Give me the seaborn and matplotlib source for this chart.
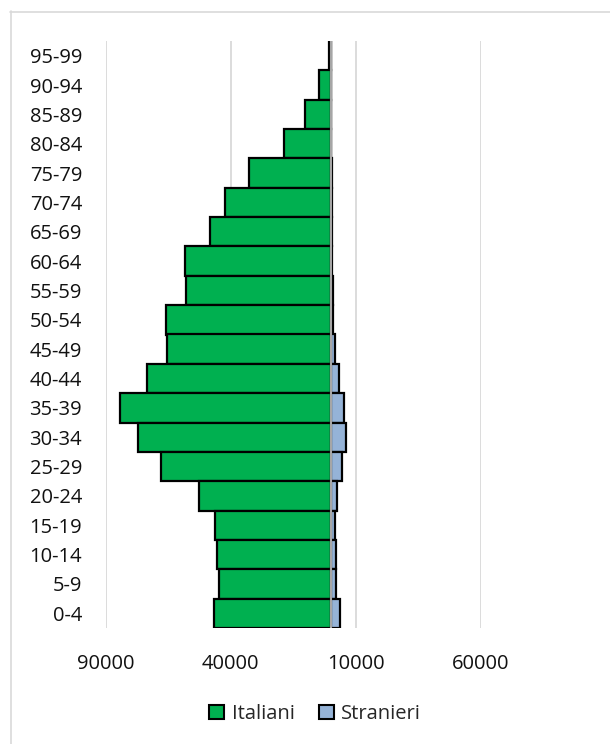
import matplotlib
matplotlib.use("Agg")
import matplotlib.pyplot as plt
from matplotlib.patches import Patch
from matplotlib.lines import Line2D
from matplotlib.ticker import FuncFormatter
import seaborn as sns
import pandas as pd

# Age classes, oldest first (top of the pyramid)
age_groups = ["95-99", "90-94", "85-89", "80-84", "75-79", "70-74", "65-69",
              "60-64", "55-59", "50-54", "45-49", "40-44", "35-39", "30-34",
              "25-29", "20-24", "15-19", "10-14", "5-9", "0-4"]
italiani = [800, 4500, 10300, 18700, 32600, 42200, 48300, 58200, 57900, 65900,
            65400, 73400, 84200, 77100, 68000, 52700, 46200, 45600, 44600, 46700]
stranieri = [100, 150, 250, 300, 400, 500, 600, 700, 800, 1100,
             1800, 3500, 5400, 6000, 4700, 2600, 1900, 2000, 2300, 3800]
x_ticks = [-90000, -40000, 10000, 60000]
series_names = ["Italiani", "Stranieri"]

GREEN = "#00B050"
BLUE = "#95B3D7"

sns.set_theme(style="white")
plt.rcParams["font.family"] = ["Open Sans", "DejaVu Sans"]

df = pd.DataFrame({"age": age_groups,
                   "italiani": [-v for v in italiani],
                   "stranieri": stranieri})

fig = plt.figure(figsize=(6.1, 7.44), dpi=100)
ax = fig.add_axes([105.7 / 610, 1 - 628 / 744, 375 / 610, 587 / 744])

sns.barplot(data=df, x="italiani", y="age", order=age_groups, color=GREEN,
            saturation=1, width=1.0, edgecolor="black", linewidth=1.6,
            ax=ax, zorder=2)
sns.barplot(data=df, x="stranieri", y="age", order=age_groups, color=BLUE,
            saturation=1, width=1.0, edgecolor="black", linewidth=1.6,
            ax=ax, zorder=2)

ax.set_xlim(-90000, 60000)
ax.set_ylim(len(age_groups) - 0.5, -0.5)
ax.set_xticks(x_ticks)
ax.xaxis.set_major_formatter(FuncFormatter(lambda v, p: f"{abs(int(v))}"))
ax.set_xlabel("")
ax.set_ylabel("")
for s in ax.spines.values():
    s.set_visible(False)
ax.grid(False)
for xt in x_ticks:
    ax.axvline(xt, color="#D9D9D9", linewidth=1.3, zorder=0)
ax.axvline(0, color="#A6A6A6", linewidth=1.5, zorder=3)

ax.tick_params(axis="both", length=0, labelsize=14.5, colors="#111111")
ax.tick_params(axis="y", pad=17)
ax.tick_params(axis="x", pad=19)

handles = [Patch(facecolor=GREEN, edgecolor="black", linewidth=1.5),
           Patch(facecolor=BLUE, edgecolor="black", linewidth=1.5)]
fig.legend(handles, series_names, loc="center", bbox_to_anchor=(315 / 610, 1 - 714 / 744),
           ncol=2, frameon=False, fontsize=14.5, handlelength=0.75, handleheight=0.75,
           handletextpad=0.35, columnspacing=1.2)

# chart frame
fig.add_artist(Line2D([10.5 / 610, 10.5 / 610], [0, 1 - 11 / 744],
                      transform=fig.transFigure, color="#D9D9D9", linewidth=1.2))
fig.add_artist(Line2D([10 / 610, 1.0], [1 - 11.5 / 744, 1 - 11.5 / 744],
                      transform=fig.transFigure, color="#D9D9D9", linewidth=1.2))

fig.savefig("out.png", dpi=100, facecolor="white")
